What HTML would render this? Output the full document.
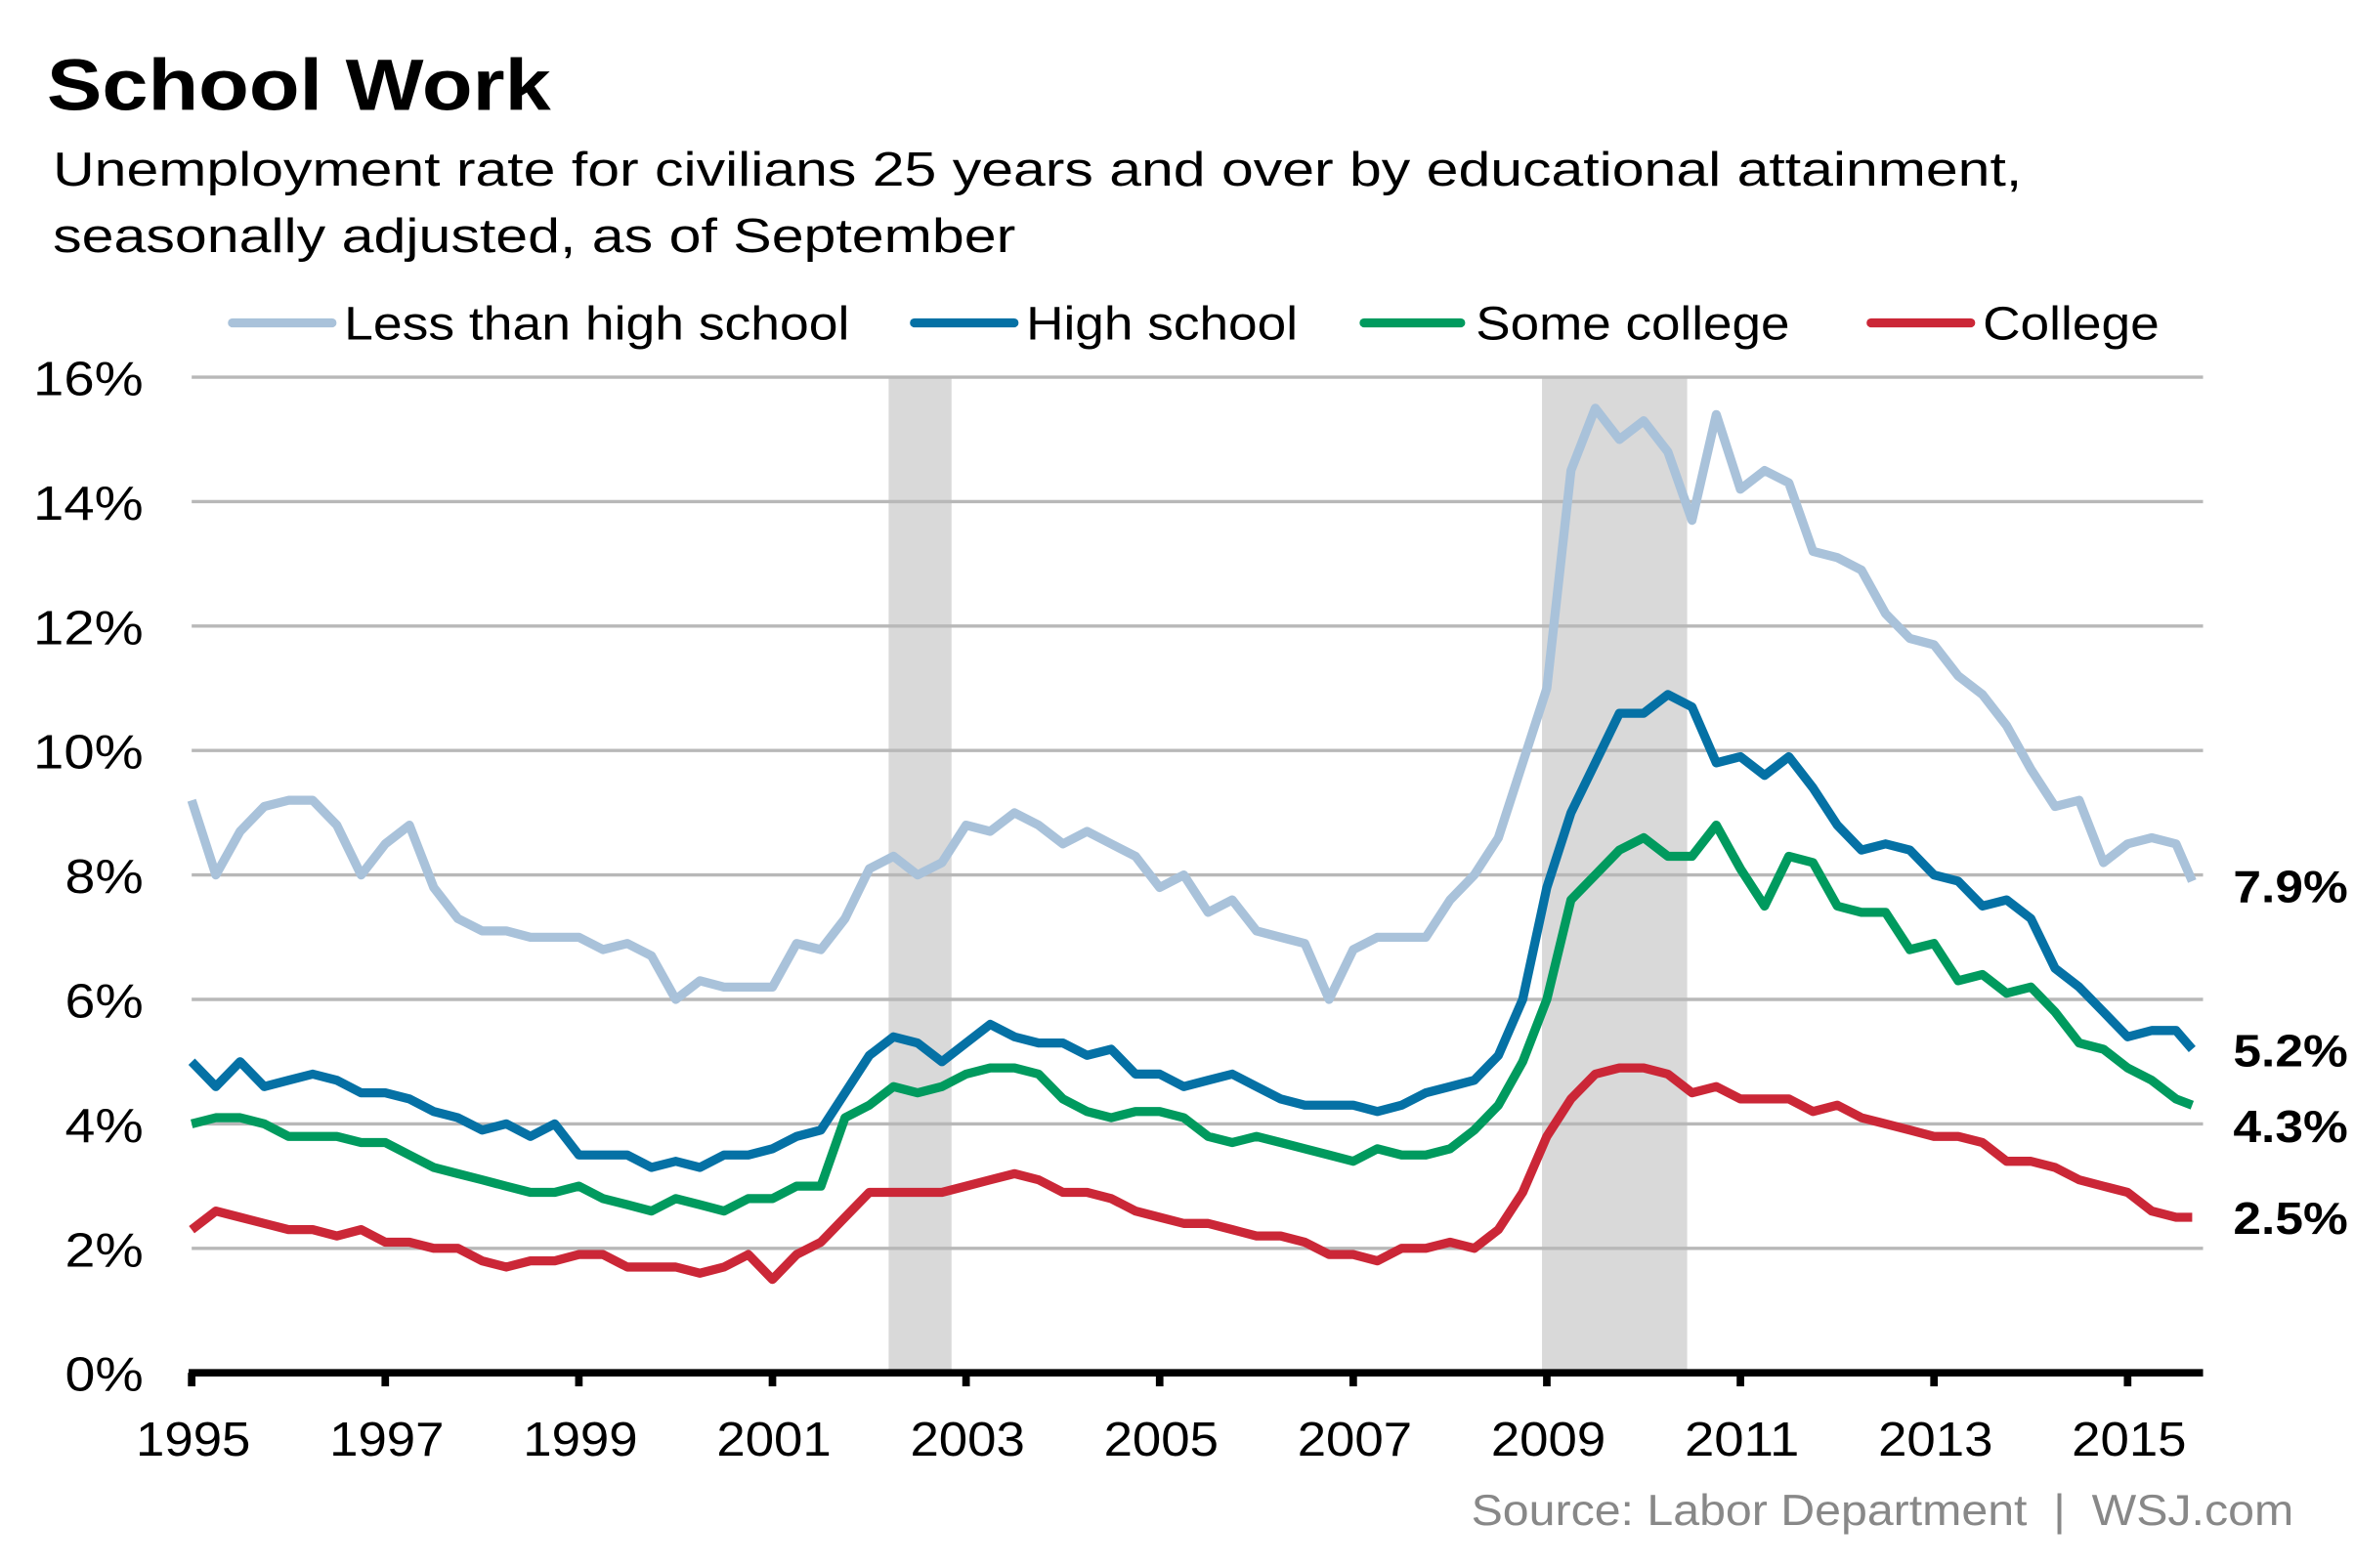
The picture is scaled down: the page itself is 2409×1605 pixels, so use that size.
<!DOCTYPE html>
<html><head><meta charset="utf-8"><style>
html,body{margin:0;padding:0;background:#fff;}
svg{display:block;font-family:"Liberation Sans",Arial,sans-serif;}
</style></head><body>
<svg id="chart" width="2409" height="1605" viewBox="0 0 1560 1039.4" xmlns="http://www.w3.org/2000/svg">
<rect width="1560" height="1040" fill="#fff"/>
<text x="31" y="73" font-size="48" font-weight="bold" fill="#000" textLength="334" lengthAdjust="spacingAndGlyphs">School Work</text>
<text x="35" y="123" font-size="32" fill="#000" textLength="1305" lengthAdjust="spacingAndGlyphs">Unemployment rate for civilians 25 years and over by educational attainment,</text>
<text x="35" y="167" font-size="32" fill="#000" textLength="638" lengthAdjust="spacingAndGlyphs">seasonally adjusted, as of September</text>
<g font-size="31" fill="#000">
 <line x1="154" y1="214" x2="220" y2="214" stroke="#a9c2da" stroke-width="6" stroke-linecap="round"/>
 <text x="228" y="225" textLength="335" lengthAdjust="spacingAndGlyphs">Less than high school</text>
 <line x1="606" y1="214" x2="672" y2="214" stroke="#0571a5" stroke-width="6" stroke-linecap="round"/>
 <text x="680" y="225" textLength="180" lengthAdjust="spacingAndGlyphs">High school</text>
 <line x1="904" y1="214" x2="968" y2="214" stroke="#009a5e" stroke-width="6" stroke-linecap="round"/>
 <text x="978" y="225" textLength="208" lengthAdjust="spacingAndGlyphs">Some college</text>
 <line x1="1240" y1="214" x2="1306" y2="214" stroke="#cb2737" stroke-width="6" stroke-linecap="round"/>
 <text x="1314" y="225" textLength="117" lengthAdjust="spacingAndGlyphs">College</text>
</g>
<g id="shade"></g>
<g id="grid"></g>
<g id="series"></g>
<g id="axis"></g>
<g font-size="30" font-weight="bold" fill="#000">
 <text x="1480" y="598" textLength="76" lengthAdjust="spacingAndGlyphs">7.9%</text>
 <text x="1480" y="707" textLength="76" lengthAdjust="spacingAndGlyphs">5.2%</text>
 <text x="1480" y="757" textLength="76" lengthAdjust="spacingAndGlyphs">4.3%</text>
 <text x="1480" y="818" textLength="76" lengthAdjust="spacingAndGlyphs">2.5%</text>
</g>
<text x="975" y="1011" font-size="29" fill="#888" textLength="545" lengthAdjust="spacingAndGlyphs" xml:space="preserve">Source: Labor Department  |  WSJ.com</text>
</svg>
<script>
const yTicks = [0,2,4,6,8,10,12,14,16];
const xTickYears = [1995,1997,1999,2001,2003,2005,2007,2009,2011,2013,2015];
const recessionStart = [2002.2, 2008.95];
const recessionEnd = [2002.85, 2010.45];
const lessThanHS = [9.2,8.0,8.7,9.1,9.2,9.2,8.8,8.0,8.5,8.8,7.8,7.3,7.1,7.1,7.0,7.0,7.0,6.8,6.9,6.7,6.0,6.3,6.2,6.2,6.2,6.9,6.8,7.3,8.1,8.3,8.0,8.2,8.8,8.7,9.0,8.8,8.5,8.7,8.5,8.3,7.8,8.0,7.4,7.6,7.1,7.0,6.9,6.0,6.8,7.0,7.0,7.0,7.6,8.0,8.6,9.8,11.0,14.5,15.5,15.0,15.3,14.8,13.7,15.4,14.2,14.5,14.3,13.2,13.1,12.9,12.2,11.8,11.7,11.2,10.9,10.4,9.7,9.1,9.2,8.2,8.5,8.6,8.5,7.9];
const highSchool = [5.0,4.6,5.0,4.6,4.7,4.8,4.7,4.5,4.5,4.4,4.2,4.1,3.9,4.0,3.8,4.0,3.5,3.5,3.5,3.3,3.4,3.3,3.5,3.5,3.6,3.8,3.9,4.5,5.1,5.4,5.3,5.0,5.3,5.6,5.4,5.3,5.3,5.1,5.2,4.8,4.8,4.6,4.7,4.8,4.6,4.4,4.3,4.3,4.3,4.2,4.3,4.5,4.6,4.7,5.1,6.0,7.8,9.0,9.8,10.6,10.6,10.9,10.7,9.8,9.9,9.6,9.9,9.4,8.8,8.4,8.5,8.4,8.0,7.9,7.5,7.6,7.3,6.5,6.2,5.8,5.4,5.5,5.5,5.2];
const someCollege = [4.0,4.1,4.1,4.0,3.8,3.8,3.8,3.7,3.7,3.5,3.3,3.2,3.1,3.0,2.9,2.9,3.0,2.8,2.7,2.6,2.8,2.7,2.6,2.8,2.8,3.0,3.0,4.1,4.3,4.6,4.5,4.6,4.8,4.9,4.9,4.8,4.4,4.2,4.1,4.2,4.2,4.1,3.8,3.7,3.8,3.7,3.6,3.5,3.4,3.6,3.5,3.5,3.6,3.9,4.3,5.0,6.0,7.6,8.0,8.4,8.6,8.3,8.3,8.8,8.1,7.5,8.3,8.2,7.5,7.4,7.4,6.8,6.9,6.3,6.4,6.1,6.2,5.8,5.3,5.2,4.9,4.7,4.4,4.3];
const college = [2.3,2.6,2.5,2.4,2.3,2.3,2.2,2.3,2.1,2.1,2.0,2.0,1.8,1.7,1.8,1.8,1.9,1.9,1.7,1.7,1.7,1.6,1.7,1.9,1.5,1.9,2.1,2.5,2.9,2.9,2.9,2.9,3.0,3.1,3.2,3.1,2.9,2.9,2.8,2.6,2.5,2.4,2.4,2.3,2.2,2.2,2.1,1.9,1.9,1.8,2.0,2.0,2.1,2.0,2.3,2.9,3.8,4.4,4.8,4.9,4.9,4.8,4.5,4.6,4.4,4.4,4.4,4.2,4.3,4.1,4.0,3.9,3.8,3.8,3.7,3.4,3.4,3.3,3.1,3.0,2.9,2.6,2.5,2.5];
const seriesNames = ["less-than-high-school","high-school","some-college","college"];
const seriesColors = ["#a9c2da","#0571a5","#009a5e","#cb2737"];

const NS = "http://www.w3.org/2000/svg";
const X0 = 127, X1 = 1460, YB = 910, YT = 250;
function xScale(yr){ return X0 + (yr - 1995) * 64.15; }
function yScale(v){ return YB - (v / 16) * (YB - YT); }
function dateAt(i, n){ return i === n - 1 ? 2015 + 8/12 : 1995 + i * 0.25; }

const shade = document.getElementById('shade');
for (let i = 0; i < recessionStart.length; i++) {
  const r = document.createElementNS(NS, 'rect');
  
  
  r.setAttribute('x', xScale(recessionStart[i]));
  r.setAttribute('y', YT);
  r.setAttribute('width', xScale(recessionEnd[i]) - xScale(recessionStart[i]));
  r.setAttribute('height', YB - YT);
  r.setAttribute('fill', '#d9d9d9');
  shade.appendChild(r);
}
const grid = document.getElementById('grid');
yTicks.forEach(v => {
  if (v > 0) {
    const l = document.createElementNS(NS, 'line');
    
    
    l.setAttribute('x1', X0); l.setAttribute('x2', X1);
    l.setAttribute('y1', yScale(v)); l.setAttribute('y2', yScale(v));
    l.setAttribute('stroke', '#b8b8b8'); l.setAttribute('stroke-width', '2.2');
    grid.appendChild(l);
  }
  const t = document.createElementNS(NS, 'text');
  
  
  t.setAttribute('x', 95); t.setAttribute('y', yScale(v) + 12);
  t.setAttribute('text-anchor', 'end'); t.setAttribute('font-size', '32');
  t.setAttribute('textLength', v >= 10 ? 73 : 52);
  t.setAttribute('lengthAdjust', 'spacingAndGlyphs');
  t.textContent = v + '%';
  grid.appendChild(t);
});
const sg = document.getElementById('series');
[lessThanHS, highSchool, someCollege, college].forEach((arr, s) => {
  const pts = arr.map((v, i) => xScale(dateAt(i, arr.length)).toFixed(1) + ',' + yScale(v).toFixed(1)).join(' ');
  const p = document.createElementNS(NS, 'polyline');
  
  
  p.setAttribute('points', pts);
  p.setAttribute('fill', 'none');
  p.setAttribute('stroke', seriesColors[s]);
  p.setAttribute('stroke-width', '6');
  p.setAttribute('stroke-linejoin', 'round');
  sg.appendChild(p);
});
const ax = document.getElementById('axis');
const base = document.createElementNS(NS, 'line');


base.setAttribute('x1', X0 - 2); base.setAttribute('x2', X1);
base.setAttribute('y1', YB); base.setAttribute('y2', YB);
base.setAttribute('stroke', '#000'); base.setAttribute('stroke-width', '5');
ax.appendChild(base);
xTickYears.forEach(yr => {
  const tk = document.createElementNS(NS, 'line');
  
  
  tk.setAttribute('x1', xScale(yr)); tk.setAttribute('x2', xScale(yr));
  tk.setAttribute('y1', YB); tk.setAttribute('y2', YB + 9);
  tk.setAttribute('stroke', '#000'); tk.setAttribute('stroke-width', '5');
  ax.appendChild(tk);
  const t = document.createElementNS(NS, 'text');
  
  
  t.setAttribute('x', xScale(yr) - 37); t.setAttribute('y', 965);
  t.setAttribute('font-size', '32');
  t.setAttribute('textLength', 76);
  t.setAttribute('lengthAdjust', 'spacingAndGlyphs');
  t.textContent = yr;
  ax.appendChild(t);
});
</script>
</body></html>
